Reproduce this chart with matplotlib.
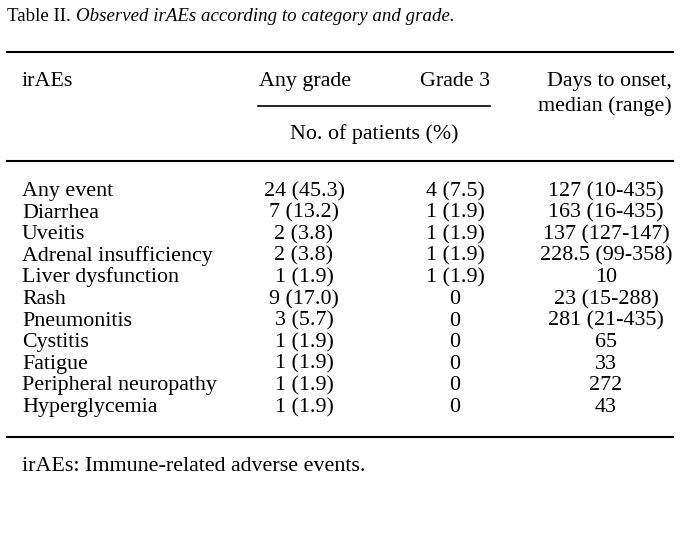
import matplotlib
matplotlib.use("Agg")
import matplotlib.pyplot as plt

title_plain = "Table II. "
title_italic = "Observed irAEs according to category and grade."
header_label = "irAEs"
header_any = "Any grade"
header_g3 = "Grade 3"
header_days = ["Days to onset,", "median (range)"]
header_sub = "No. of patients (%)"

categories = ["Any event", "Diarrhea", "Uveitis", "Adrenal insufficiency",
              "Liver dysfunction", "Rash", "Pneumonitis", "Cystitis",
              "Fatigue", "Peripheral neuropathy", "Hyperglycemia"]
any_grade = ["24 (45.3)", "7 (13.2)", "2 (3.8)", "2 (3.8)", "1 (1.9)",
             "9 (17.0)", "3 (5.7)", "1 (1.9)", "1 (1.9)", "1 (1.9)", "1 (1.9)"]
grade3 = ["4 (7.5)", "1 (1.9)", "1 (1.9)", "1 (1.9)", "1 (1.9)",
          "0", "0", "0", "0", "0", "0"]
days_onset = ["127 (10-435)", "163 (16-435)", "137 (127-147)", "228.5 (99-358)",
              "10", "23 (15-288)", "281 (21-435)", "65", "33", "272", "43"]
footnote = "irAEs: Immune-related adverse events."

W, H = 698, 546
fig = plt.figure(figsize=(W / 100, H / 100), dpi=100)
ax = fig.add_axes([0, 0, 1, 1])
ax.set_xlim(0, W)
ax.set_ylim(H, 0)
ax.axis("off")

fam = ["Liberation Serif", "DejaVu Serif"]
fs = 15.8
fs_title = 13.6

t = ax.text(7, 21, title_plain, family=fam, fontsize=fs_title, va="baseline", ha="left")
fig.canvas.draw()
bb = t.get_window_extent()
x_end = ax.transData.inverted().transform((bb.x1, 0))[0]
ax.text(x_end, 21, title_italic, family=fam, fontsize=fs_title, style="italic",
        va="baseline", ha="left")

lw = 1.5
ax.plot([7, 673], [52, 52], color="black", lw=lw)
ax.plot([258, 490], [106, 106], color="black", lw=1.2)
ax.plot([7, 673], [161, 161], color="black", lw=lw)
ax.plot([7, 673], [437, 437], color="black", lw=lw)

ax.text(22, 86, header_label, family=fam, fontsize=fs, va="baseline", ha="left")
ax.text(305, 86, header_any, family=fam, fontsize=fs, va="baseline", ha="center")
ax.text(490, 86, header_g3, family=fam, fontsize=fs, va="baseline", ha="right")
ax.text(672, 86, header_days[0], family=fam, fontsize=fs, va="baseline", ha="right")
ax.text(672, 111, header_days[1], family=fam, fontsize=fs, va="baseline", ha="right")
ax.text(374, 139, header_sub, family=fam, fontsize=fs, va="baseline", ha="center")

y0, dy = 196, 21.6
for i, (c, a, g, d) in enumerate(zip(categories, any_grade, grade3, days_onset)):
    y = y0 + i * dy
    ax.text(22, y, c, family=fam, fontsize=fs, va="baseline", ha="left")
    ax.text(304, y, a, family=fam, fontsize=fs, va="baseline", ha="center")
    ax.text(455, y, g, family=fam, fontsize=fs, va="baseline", ha="center")
    ax.text(606, y, d, family=fam, fontsize=fs, va="baseline", ha="center")

ax.text(22, 471, footnote, family=fam, fontsize=fs, va="baseline", ha="left")

fig.savefig("out.png", dpi=100, facecolor="white")
